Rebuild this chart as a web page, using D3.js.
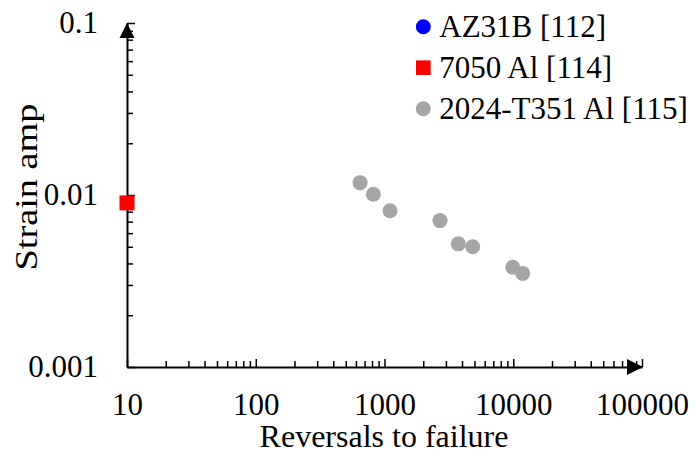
<!DOCTYPE html>
<html>
<head>
<meta charset="utf-8">
<script src="https://d3js.org/d3.v7.min.js"></script>
<style>
  body { margin: 0; background: #fff; }
  svg text { font-family: "Liberation Serif", "Times New Roman", Times, serif; fill: #000; }
</style>
</head>
<body>
<svg width="699" height="455"></svg>
<script>
// series: [reversals to failure, strain amplitude]
var seriesNames = ["AZ31B [112]", "7050 Al [114]", "2024-T351 Al [115]"];
var az31bData = [];
var al7050Data = [[10, 0.009]];
var al2024Data = [
  [646, 0.0118], [819, 0.0101], [1104, 0.0081], [2698, 0.0071],
  [3743, 0.0052], [4842, 0.0050], [9910, 0.0038], [11840, 0.0035]
];
var xTickLabels = [10, 100, 1000, 10000, 100000];
var yTickLabels = ["0.001", "0.01", "0.1"];

var svg = d3.select("svg");
var fs = 31;

var x = d3.scaleLog().domain([10, 100000]).range([127, 642]);
var y = d3.scaleLog().domain([0.001, 0.1]).range([367, 23]);

var isMajor = function(v) { return Math.abs(Math.log10(v) - Math.round(Math.log10(v))) < 1e-9; };

// x axis, ticks pointing up
var xAxis = svg.append("g")
    .attr("transform", "translate(0," + y(0.001) + ")")
    .call(d3.axisBottom(x)
      .tickValues(x.ticks())
      .tickSizeInner(-6).tickSizeOuter(0)
      .tickPadding(26)
      .tickFormat(function(d) { return xTickLabels.indexOf(d) >= 0 ? d : ""; }));
xAxis.attr("font-family", null);
xAxis.select(".domain").attr("stroke", "#000").attr("stroke-width", 2);
xAxis.selectAll(".tick line").attr("stroke", "#000").attr("stroke-width", 1.5)
    .attr("y2", function(d) { return isMajor(d) ? -8 : -6; });
xAxis.selectAll(".tick text").attr("font-size", fs).attr("fill", "#000");

// y axis, ticks pointing right
var yAxis = svg.append("g")
    .attr("transform", "translate(" + x(10) + ",0)")
    .call(d3.axisLeft(y)
      .tickValues(y.ticks())
      .tickSizeInner(-6).tickSizeOuter(0)
      .tickPadding(29)
      .tickFormat(function(d) { return isMajor(d) ? yTickLabels[Math.round(Math.log10(d)) + 3] : ""; }));
yAxis.attr("font-family", null);
yAxis.select(".domain").attr("stroke", "#000").attr("stroke-width", 2);
yAxis.selectAll(".tick line").attr("stroke", "#000").attr("stroke-width", 1.5)
    .attr("x2", function(d) { return isMajor(d) ? 8 : 6; });
yAxis.selectAll(".tick text").attr("font-size", fs).attr("fill", "#000");

// arrow heads
svg.append("path")
    .attr("d", "M" + x(10) + "," + y(0.1) + "l-7.5,15h15z")
    .attr("fill", "#000");
svg.append("path")
    .attr("d", "M" + (x(100000) + 1) + "," + y(0.001) + "l-16,-8v16z")
    .attr("fill", "#000");

// axis titles
svg.append("text")
    .attr("x", 384).attr("y", 447)
    .attr("text-anchor", "middle").attr("font-size", 32)
    .text("Reversals to failure");
svg.append("text")
    .attr("transform", "translate(37,187) rotate(-90)")
    .attr("text-anchor", "middle").attr("font-size", 32)
    .attr("textLength", 167).attr("lengthAdjust", "spacingAndGlyphs")
    .text("Strain amp");

// data
svg.append("g").selectAll("circle").data(az31bData).enter().append("circle")
    .attr("cx", function(d) { return x(d[0]); })
    .attr("cy", function(d) { return y(d[1]); })
    .attr("r", 7.5).attr("fill", "#0000ff");

svg.append("g").selectAll("circle").data(al2024Data).enter().append("circle")
    .attr("cx", function(d) { return x(d[0]); })
    .attr("cy", function(d) { return y(d[1]); })
    .attr("r", 7.5).attr("fill", "#a5a5a5");

svg.append("g").selectAll("rect").data(al7050Data).enter().append("rect")
    .attr("x", function(d) { return x(d[0]) - 7.5; })
    .attr("y", function(d) { return y(d[1]) - 7.5; })
    .attr("width", 15).attr("height", 15).attr("fill", "#ff0000");

// legend
var legend = svg.append("g").selectAll("g").data(seriesNames).enter().append("g")
    .attr("transform", function(d, i) { return "translate(423.3," + (26.7 + i * 41) + ")"; });
legend.each(function(d, i) {
  var g = d3.select(this);
  if (i === 1) g.append("rect").attr("x", -7.3).attr("y", -7.3).attr("width", 14.6).attr("height", 14.6).attr("fill", "#ff0000");
  else g.append("circle").attr("r", 7.5).attr("fill", i === 0 ? "#0000ff" : "#a5a5a5");
});
legend.append("text")
    .attr("x", 16).attr("dy", "0.32em")
    .attr("font-size", fs)
    .text(function(d) { return d; });
</script>
</body>
</html>
